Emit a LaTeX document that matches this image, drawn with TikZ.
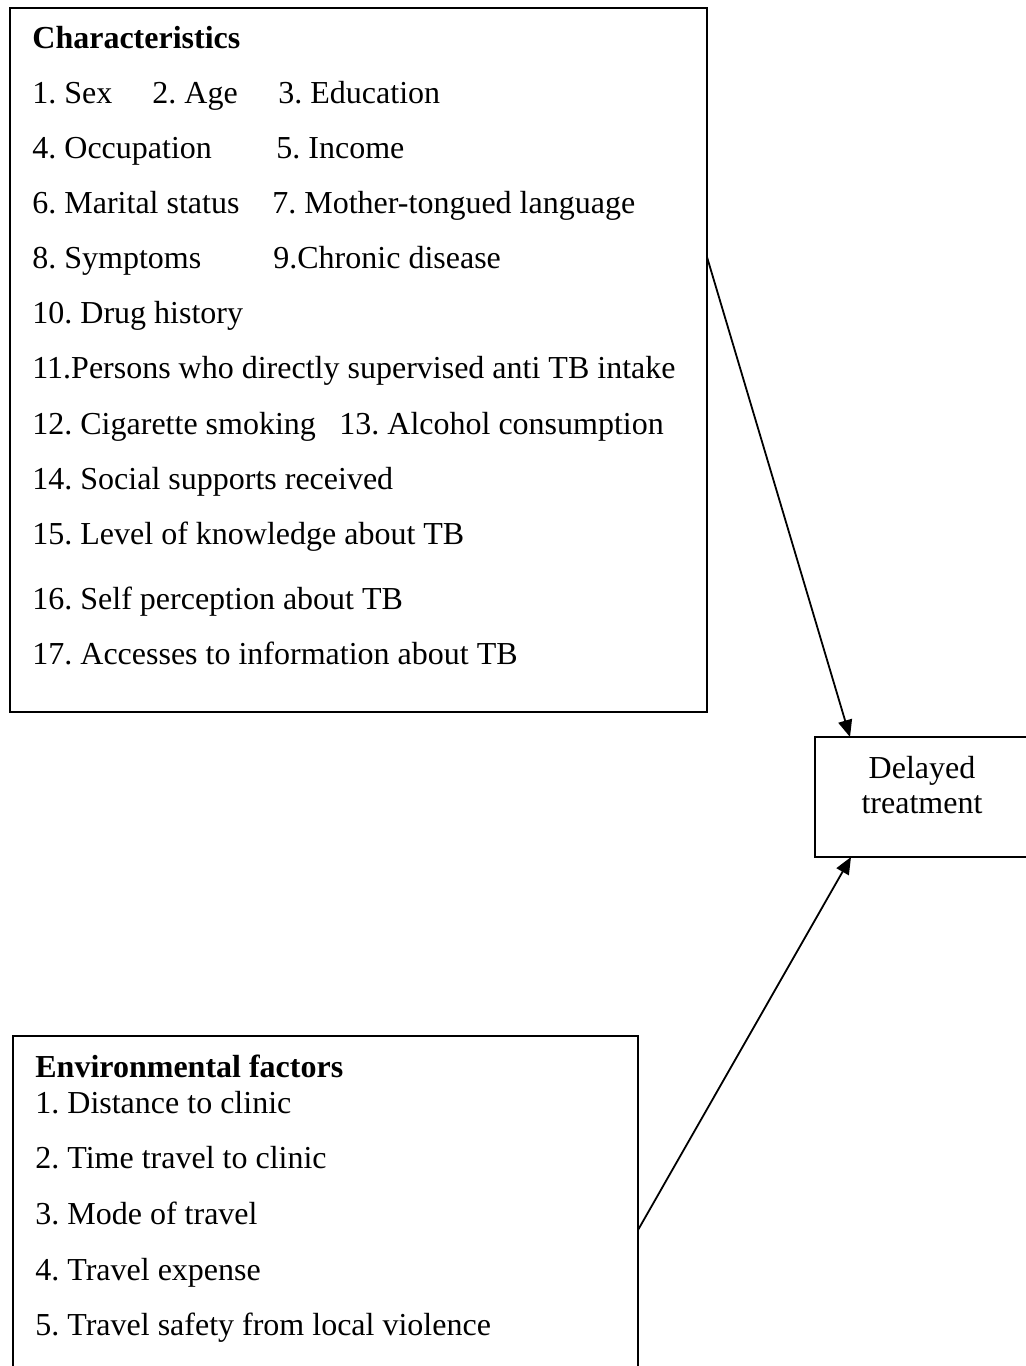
\documentclass[tikz,border=0pt]{standalone}
\usepackage{fontspec}
\setmainfont{Liberation Serif}
\usetikzlibrary{arrows.meta}
\frenchspacing
\begin{document}
\begin{tikzpicture}[x=0.5pt,y=-0.5pt,
  boxstyle/.style={draw,line width=1pt,rectangle,inner sep=0pt,outer sep=0pt},
  txt/.style={anchor=base west,inner sep=0pt,font=\frenchspacing\fontsize{16pt}{17.5pt}\selectfont},
  ctxt/.style={anchor=base,inner sep=0pt,font=\fontsize{16pt}{17.5pt}\selectfont},
  conn/.style={line width=0.9pt,-{Triangle[length=8.5pt,width=7pt]}}]
\useasboundingbox (0,0) rectangle (1025,1366);
% boxes
\node[boxstyle,minimum width=348.5pt,minimum height=352pt] (char) at (358.5,360) {};
\node[boxstyle,minimum width=107.5pt,minimum height=60pt] (delayed) at (922.5,797) {};
\node[boxstyle,minimum width=312.5pt,minimum height=172pt] (env) at (325.5,1208) {};
% characteristics text
\node[txt] (ch0) at (32,48) {\textbf{Characteristics}};
\node[txt] (ch1) at (32,103) {1. Sex};
\node[txt] (ch2) at (152,103) {2. Age};
\node[txt] (ch3) at (278,103) {3. Education};
\node[txt] (ch4) at (32,158) {4. Occupation};
\node[txt] (ch5) at (276,158) {5. Income};
\node[txt] (ch6) at (32,213) {6. Marital status};
\node[txt] (ch7) at (272,213) {7. Mother-tongued language};
\node[txt] (ch8) at (32,268) {8. Symptoms};
\node[txt] (ch9) at (273,268) {9.Chronic disease};
\node[txt] (ch10) at (32,323) {10. Drug history};
\node[txt] (ch11) at (32,378) {11.Persons who directly supervised anti TB intake};
\node[txt] (ch12) at (32,434) {12. Cigarette smoking};
\node[txt] (ch13) at (339,434) {13. Alcohol consumption};
\node[txt] (ch14) at (32,489) {14. Social supports received};
\node[txt] (ch15) at (32,544) {15. Level of knowledge about TB};
\node[txt] (ch16) at (32,609) {16. Self perception about TB};
\node[txt] (ch17) at (32,664) {17. Accesses to information about TB};
% delayed text
\node[ctxt] (dl1) at (922,778) {Delayed};
\node[ctxt] (dl2) at (922,813) {treatment};
% environmental text
\node[txt] (ev0) at (35,1077) {\textbf{Environmental factors}};
\node[txt] (ev1) at (35,1113) {1. Distance to clinic};
\node[txt] (ev2) at (35,1168) {2. Time travel to clinic};
\node[txt] (ev3) at (35,1224) {3. Mode of travel};
\node[txt] (ev4) at (35,1280) {4. Travel expense};
\node[txt] (ev5) at (35,1335) {5. Travel safety from local violence};
% connectors
\draw[conn] ([yshift=-124.5pt]char.north east) -- ([xshift=17.5pt]delayed.north west);
\draw[conn] ([yshift=-97pt]env.north east) -- ([xshift=18pt]delayed.south west);
\end{tikzpicture}
\end{document}
